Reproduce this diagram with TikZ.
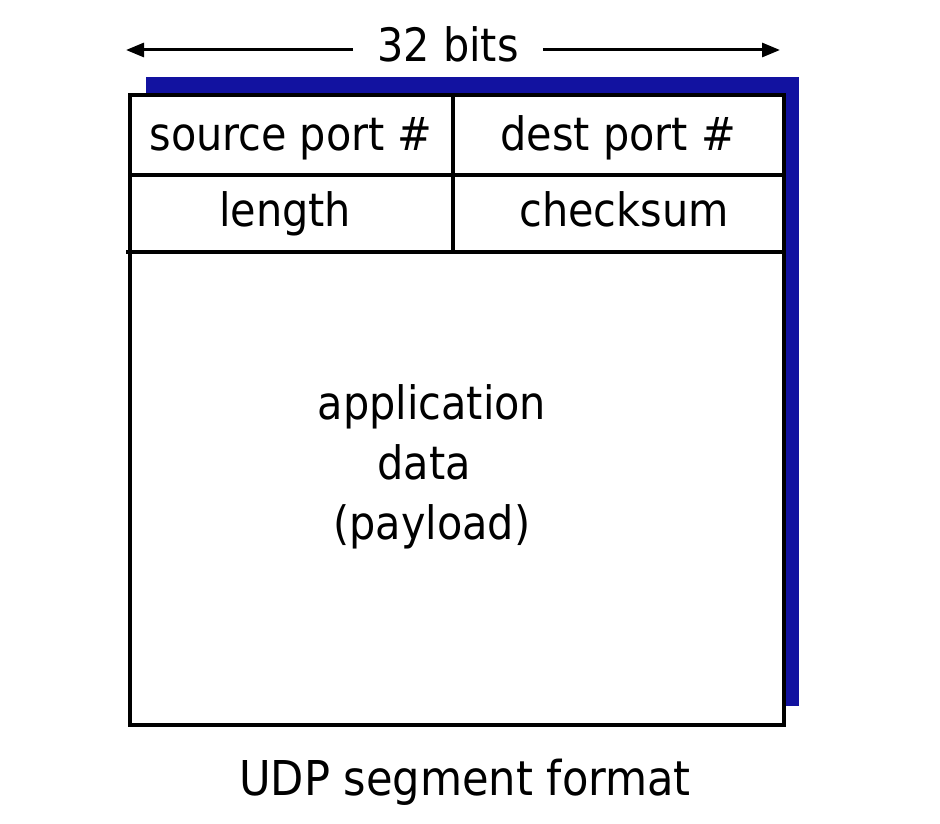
\documentclass[tikz,border=0pt]{standalone}
\usepackage{fontspec}
\setmainfont{DejaVu Sans Condensed}
\usetikzlibrary{arrows.meta}
\definecolor{shadowblue}{RGB}{18,18,160}
\begin{document}
\begin{tikzpicture}[x=1pt,y=-1pt,
  lbl/.style={font=\fontsize{46}{56}\selectfont, inner sep=0pt, anchor=base},
  cell/.style={draw=black, line width=4pt, fill=white},
  dimarrow/.style={line width=3pt, -{Triangle[length=18pt,width=14pt]}}]
\useasboundingbox (0,0) rectangle (940,824);
% shadow
\fill[shadowblue] (146,77) rectangle (799,706);
% cells
\draw[cell] (130,95) rectangle (784,725);
\draw[line width=4pt] (130,175) -- (784,175);
\draw[line width=4pt] (126,252) -- (784,252);
\draw[line width=4pt] (453,95) -- (453,252);
% texts
\node[lbl] (bits) at (448,62) {32 bits};
\coordinate (lefttip) at (126,50);
\coordinate (righttip) at (780,50);
\draw[dimarrow] ([xshift=-24pt]bits.west |- lefttip) -- (lefttip);
\draw[dimarrow] ([xshift=24pt]bits.east |- righttip) -- (righttip);
\node[lbl] (src) at (291,151) {source port \#};
\node[lbl] (dst) at (618,151) {dest port \#};
\node[lbl] (len) at (285,226) {length};
\node[lbl] (chk) at (624,226) {checksum};
\node[lbl] (app) at (432,419) {application};
\node[lbl] (data) at (424,479) {data};
\node[lbl] (pay) at (432,539) {(payload)};
\node[lbl,font=\fontsize{48}{58}\selectfont] (cap) at (465,795) {UDP segment format};
\end{tikzpicture}
\end{document}
